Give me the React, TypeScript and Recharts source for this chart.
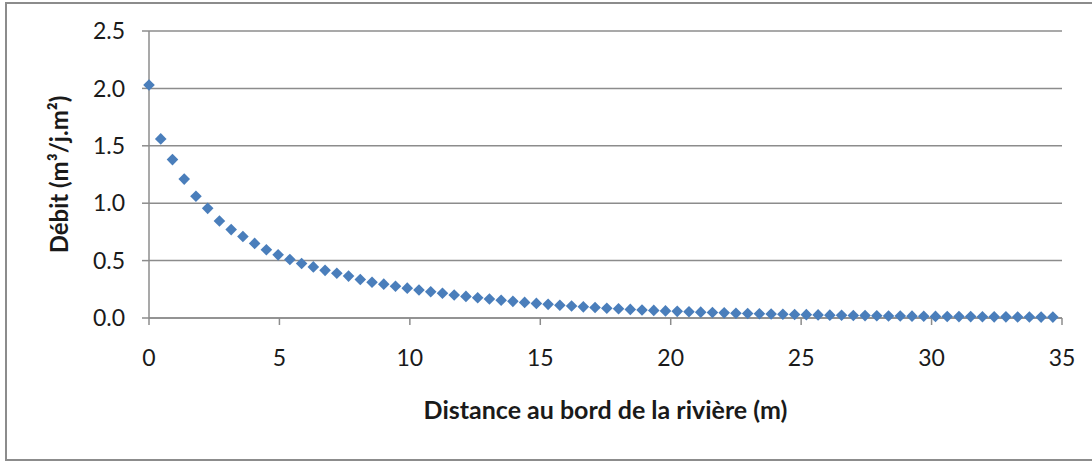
import { ScatterChart, Scatter, XAxis, YAxis, CartesianGrid, Label } from "recharts";

// distance from the river bank (m)
const distances = [
  0, 0.45, 0.9, 1.35, 1.8, 2.25, 2.7, 3.15, 3.6, 4.05, 4.5, 4.95, 5.4, 5.85,
  6.3, 6.75, 7.2, 7.65, 8.1, 8.55, 9, 9.45, 9.9, 10.35, 10.8, 11.25, 11.7,
  12.15, 12.6, 13.05, 13.5, 13.95, 14.4, 14.85, 15.3, 15.75, 16.2, 16.65, 17.1,
  17.55, 18, 18.45, 18.9, 19.35, 19.8, 20.25, 20.7, 21.15, 21.6, 22.05, 22.5,
  22.95, 23.4, 23.85, 24.3, 24.75, 25.2, 25.65, 26.1, 26.55, 27, 27.45, 27.9,
  28.35, 28.8, 29.25, 29.7, 30.15, 30.6, 31.05, 31.5, 31.95, 32.4, 32.85, 33.3,
  33.75, 34.2, 34.65,
];

// flow (m3/j.m2)
const debits = [
  2.03, 1.56, 1.38, 1.21, 1.06, 0.955, 0.845, 0.77, 0.71, 0.65, 0.595, 0.55,
  0.51, 0.475, 0.445, 0.415, 0.39, 0.365, 0.335, 0.312, 0.295, 0.277, 0.26,
  0.244, 0.229, 0.215, 0.201, 0.188, 0.176, 0.165, 0.155, 0.145, 0.136, 0.127,
  0.119, 0.111, 0.104, 0.097, 0.091, 0.085, 0.08, 0.075, 0.07, 0.066, 0.062,
  0.058, 0.054, 0.051, 0.048, 0.045, 0.042, 0.039, 0.037, 0.035, 0.033, 0.031,
  0.029, 0.027, 0.025, 0.024, 0.022, 0.021, 0.02, 0.018, 0.017, 0.016, 0.015,
  0.014, 0.013, 0.012, 0.012, 0.011, 0.01, 0.01, 0.009, 0.009, 0.008, 0.008,
];

const xTicks = [0, 5, 10, 15, 20, 25, 30, 35];
const yTicks = [0, 0.5, 1, 1.5, 2, 2.5];

const data = distances.map((x, i) => ({ x, y: debits[i] }));

const BLUE = "#4a7ebb";
const GRAY = "#8c8c8c";
const FONT = "Lato, 'Noto Sans', sans-serif";

const Diamond = (props: any) => {
  const { cx, cy } = props;
  const r = 5.8;
  return (
    <polygon
      points={`${cx},${cy - r} ${cx + r},${cy} ${cx},${cy + r} ${cx - r},${cy}`}
      fill={BLUE}
    />
  );
};

const YTitle = (props: any) => {
  const { viewBox } = props;
  const x = viewBox.x + 58;
  const y = viewBox.y + viewBox.height / 2;
  return (
    <text
      x={x}
      y={y}
      transform={`rotate(-90, ${x}, ${y})`}
      textAnchor="middle"
      dominantBaseline="central"
      fontFamily={FONT}
      fontWeight="bold"
      fontSize={24}
      fill="#1a1a1a"
    >
      Débit (m³/j.m²)
    </text>
  );
};

export default function App() {
  return (
    <div
      style={{
        position: "absolute",
        left: 0,
        top: 0,
        width: 1092,
        height: 461,
        overflow: "hidden",
        background: "#fff",
      }}
    >
      <div
        style={{
          position: "absolute",
          left: 5,
          top: 2,
          width: 1120,
          height: 455,
          border: `2px solid ${GRAY}`,
        }}
      />
      <div style={{ position: "absolute", left: 0, top: 0 }}>
        <ScatterChart
          width={1092}
          height={461}
          margin={{ top: 31, right: 30, bottom: 0, left: 0 }}
        >
          <CartesianGrid
            horizontal
            vertical={false}
            stroke={GRAY}
            strokeWidth={1.5}
          />
          <XAxis
            type="number"
            dataKey="x"
            domain={[0, 35]}
            ticks={xTicks}
            height={143}
            tickSize={7}
            tickMargin={25}
            stroke={GRAY}
            strokeWidth={1.5}
            tick={{ fontFamily: FONT, fontSize: 23, fill: "#1a1a1a" }}
          >
            <Label
              value="Distance au bord de la rivière (m)"
              position="insideBottom"
              offset={42}
              fontFamily={FONT}
              fontWeight="bold"
              fontSize={25}
              fill="#1a1a1a"
            />
          </XAxis>
          <YAxis
            type="number"
            dataKey="y"
            domain={[0, 2.5]}
            ticks={yTicks}
            width={149}
            tickSize={7}
            tickMargin={17}
            stroke={GRAY}
            strokeWidth={1.5}
            tickFormatter={(v: number) => v.toFixed(1)}
            tick={{ fontFamily: FONT, fontSize: 23, fill: "#1a1a1a" }}
            label={<YTitle />}
          />
          <Scatter data={data} shape={<Diamond />} isAnimationActive={false} />
        </ScatterChart>
      </div>
    </div>
  );
}
